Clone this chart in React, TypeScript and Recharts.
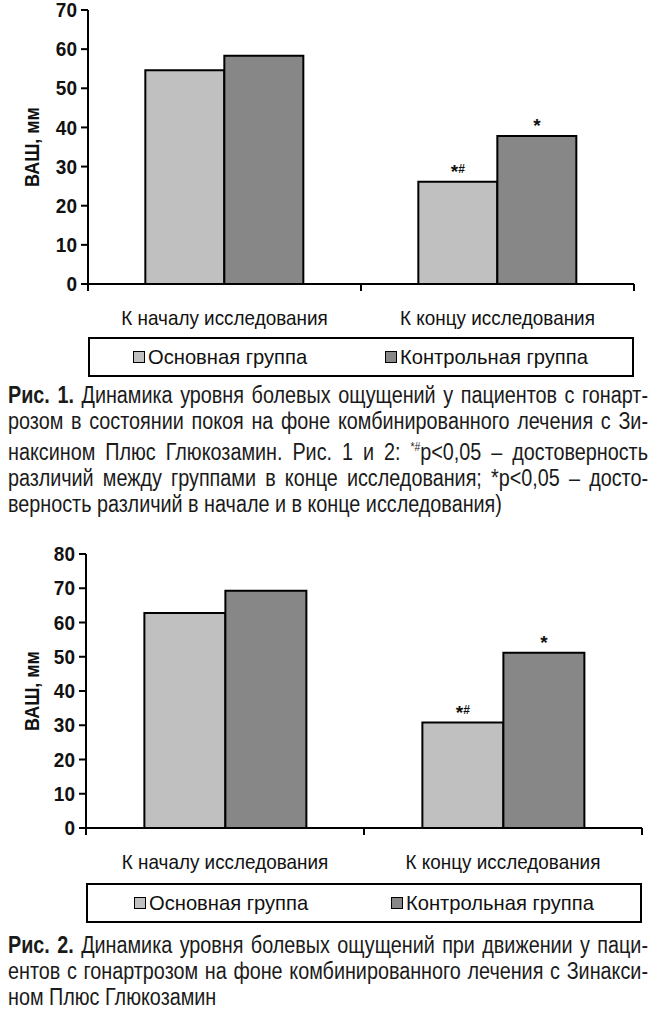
import React from "react";
import { Bar, BarChart, LabelList, Legend, XAxis, YAxis } from "recharts";

const categories = ["К началу исследования", "К концу исследования"];
const seriesNames = ["Основная группа", "Контрольная группа"];

// Рис. 1 — в покое
const restMain = [54.6, 26.1];
const restCtrl = [58.3, 37.8];
const restMarksMain = ["", "*#"];
const restMarksCtrl = ["", "*"];
const restTicks = [0, 10, 20, 30, 40, 50, 60, 70];

// Рис. 2 — при движении
const moveMain = [62.8, 30.8];
const moveCtrl = [69.3, 51.2];
const moveMarksMain = ["", "*#"];
const moveMarksCtrl = ["", "*"];
const moveTicks = [0, 10, 20, 30, 40, 50, 60, 70, 80];

const caption1 = [
  "Динамика уровня болевых ощущений у пациентов с гонарт-",
  "розом в состоянии покоя на фоне комбинированного лечения с Зи-",
  "наксином Плюс Глюкозамин. Рис. 1 и 2: ",
  "различий между группами в конце исследования; *p<0,05 – досто-",
  "верность различий в начале и в конце исследования)",
];
const caption2 = [
  "Динамика уровня болевых ощущений при движении у паци-",
  "ентов с гонартрозом на фоне комбинированного лечения с Зинакси-",
  "ном Плюс Глюкозамин",
];

const FONT = "'Liberation Sans', Arial, sans-serif";
const NARROW = 0.9; // шрифт в оригинале узкий, поджимаем по горизонтали
const CAPTION_NARROW = 0.86;
const LIGHT = "#c0c0c0";
const DARK = "#878787";

const buildRows = (main: number[], ctrl: number[], mMain: string[], mCtrl: string[]) =>
  categories.map((cat, i) => ({
    cat,
    main: main[i],
    ctrl: ctrl[i],
    markMain: mMain[i],
    markCtrl: mCtrl[i],
  }));

const CategoryTick = (props: any) => {
  const { x, y, payload, width } = props;
  const half = (Number(width) || 546) / categories.length / 2;
  return (
    <g>
      <line x1={x - half} x2={x - half} y1={y} y2={y + 7} stroke="#000" strokeWidth={2} />
      <line x1={x + half} x2={x + half} y1={y} y2={y + 7} stroke="#000" strokeWidth={2} />
      <text
        transform={`translate(${x} ${y + 34}) scale(${NARROW} 1)`}
        textAnchor="middle"
        dominantBaseline="central"
        fontFamily={FONT}
        fontSize={21}
        fill="#111"
      >
        {payload.value}
      </text>
    </g>
  );
};

const ValueTick = (props: any) => {
  const { x, y, payload } = props;
  return (
    <text
      transform={`translate(${x} ${y}) scale(0.95 1)`}
      textAnchor="end"
      dominantBaseline="central"
      fontFamily={FONT}
      fontSize={20}
      fontWeight="bold"
      fill="#111"
    >
      {payload.value}
    </text>
  );
};

const renderMark = (props: any) => {
  const vb = props.viewBox || props;
  const mark: string = props.value || "";
  if (!mark) return null;
  const cx = vb.x + vb.width / 2;
  return (
    <text x={cx} y={vb.y - 4} textAnchor="middle" fontFamily={FONT} fontSize={19} fontWeight="bold" fill="#111">
      *
      {mark.includes("#") && (
        <tspan fontSize={12} dy={-5}>
          #
        </tspan>
      )}
    </text>
  );
};

const LegendBox = (props: any) => {
  const payload = [...(props.payload || [])].sort(
    (a: any, b: any) => seriesNames.indexOf(a.value) - seriesNames.indexOf(b.value)
  );
  return (
    <div
      style={{
        border: "2px solid #000",
        height: 40,
        boxSizing: "border-box",
        display: "flex",
        alignItems: "center",
        fontFamily: FONT,
        fontSize: 21,
        color: "#111",
        paddingRight: 8,
      }}
    >
      {payload.map((p: any) => (
        <div key={p.value} style={{ width: "50%", display: "flex", justifyContent: "center", alignItems: "center" }}>
          <span
            style={{
              display: "inline-block",
              width: 10,
              height: 10,
              background: p.color,
              border: "1.5px solid #000",
              marginRight: 3,
            }}
          />
          <span style={{ display: "inline-block", transform: "scaleX(0.96)", transformOrigin: "left center" }}>
            {p.value}
          </span>
        </div>
      ))}
    </div>
  );
};

type ChartProps = {
  rows: ReturnType<typeof buildRows>;
  ticks: number[];
  max: number;
  height: number;
  margin: { top: number; right: number; left: number; bottom: number };
  yWidth: number;
  xHeight: number;
};

function PainChart({ rows, ticks, max, height, margin, yWidth, xHeight }: ChartProps) {
  const plotW = 655 - yWidth - margin.right - margin.left;
  return (
    <BarChart width={655} height={height} data={rows} margin={margin} barCategoryGap="21%" barGap={0}>
      <XAxis
        dataKey="cat"
        height={xHeight}
        axisLine={{ stroke: "#000", strokeWidth: 2 }}
        tickLine={false}
        tickSize={0}
        tickMargin={0}
        tick={<CategoryTick />}
        interval={0}
      />
      <YAxis
        width={yWidth}
        domain={[0, max]}
        ticks={ticks}
        interval={0}
        axisLine={{ stroke: "#000", strokeWidth: 2 }}
        tickLine={{ stroke: "#000", strokeWidth: 2 }}
        tickSize={7}
        tickMargin={4}
        tick={<ValueTick />}
        label={(p: any) => {
          const vb = p.viewBox;
          const cx = vb.x + 32;
          const cy = vb.y + vb.height / 2;
          return (
            <text
              transform={`translate(${cx} ${cy}) rotate(-90) scale(${NARROW} 1)`}
              textAnchor="middle"
              dominantBaseline="central"
              fontFamily={FONT}
              fontSize={20}
              fontWeight="bold"
              fill="#111"
            >
              ВАШ, мм
            </text>
          );
        }}
      />
      <Legend
        verticalAlign="bottom"
        height={40}
        wrapperStyle={{ left: yWidth + margin.left, width: plotW }}
        content={<LegendBox />}
      />
      <Bar dataKey="main" name={seriesNames[0]} fill={LIGHT} stroke="#000" strokeWidth={2} isAnimationActive={false}>
        <LabelList dataKey="markMain" content={renderMark} />
      </Bar>
      <Bar dataKey="ctrl" name={seriesNames[1]} fill={DARK} stroke="#000" strokeWidth={2} isAnimationActive={false}>
        <LabelList dataKey="markCtrl" content={renderMark} />
      </Bar>
    </BarChart>
  );
}

const Caption = ({ fig, lines, top, note }: { fig: string; lines: string[]; top: number; note?: boolean }) => (
  <div
    style={{
      position: "absolute",
      top,
      left: 8,
      width: 640 / CAPTION_NARROW,
      transform: `scaleX(${CAPTION_NARROW})`,
      transformOrigin: "left top",
      fontFamily: FONT,
      fontSize: 23,
      lineHeight: "26px",
      color: "#1a1a1a",
    }}
  >
    {lines.map((ln, i) => (
      <div
        key={i}
        style={{ textAlign: "justify", textAlignLast: i < lines.length - 1 ? "justify" : "left", whiteSpace: "nowrap" }}
      >
        {i === 0 && <b>{fig} </b>}
        {ln}
        {note && i === 2 && (
          <>
            <sup style={{ fontSize: 12 }}>*#</sup>p&lt;0,05 – достоверность
          </>
        )}
      </div>
    ))}
  </div>
);

export default function App() {
  const restRows = buildRows(restMain, restCtrl, restMarksMain, restMarksCtrl);
  const moveRows = buildRows(moveMain, moveCtrl, moveMarksMain, moveMarksCtrl);
  return (
    <div style={{ position: "absolute", left: 0, top: 0, width: 655, height: 1019, background: "#fff" }}>
      <div style={{ position: "absolute", top: 0, left: 0 }}>
        <PainChart
          rows={restRows}
          ticks={restTicks}
          max={70}
          height={380}
          margin={{ top: 10, right: 21, left: 0, bottom: 3 }}
          yWidth={88}
          xHeight={53}
        />
      </div>
      <Caption fig="Рис. 1." lines={caption1} top={382} note />
      <div style={{ position: "absolute", top: 540, left: 0 }}>
        <PainChart
          rows={moveRows}
          ticks={moveTicks}
          max={80}
          height={390}
          margin={{ top: 14, right: 13, left: 0, bottom: 7 }}
          yWidth={86}
          xHeight={55}
        />
      </div>
      <Caption fig="Рис. 2." lines={caption2} top={932} />
    </div>
  );
}
